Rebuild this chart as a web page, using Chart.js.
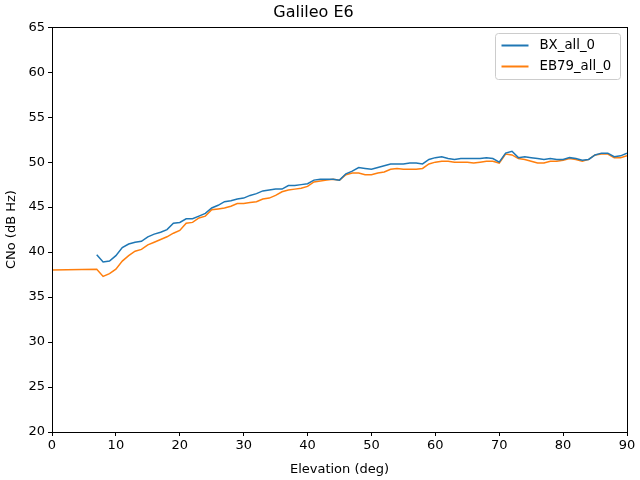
<!DOCTYPE html>
<html><head><meta charset="utf-8">
<script src="https://cdn.jsdelivr.net/npm/chart.js@4/dist/chart.umd.min.js"></script>
<style>html,body{margin:0;padding:0;background:#fff}#w{width:640px;height:480px}</style>
</head><body><div id="w"><canvas id="c"></canvas></div>
<script>
const title = "Galileo E6";
const xLabel = "Elevation (deg)";
const yLabel = "CNo (dB Hz)";
const seriesNames = ["BX_all_0", "EB79_all_0"];
const bxElev = [7,8,9,10,11,12,13,14,15,16,17,18,19,20,21,22,23,24,25,26,27,28,29,30,31,32,33,34,35,36,37,38,39,40,41,42,43,44,45,46,47,48,49,50,51,52,53,54,55,56,57,58,59,60,61,62,63,64,65,66,67,68,69,70,71,72,73,74,75,76,77,78,79,80,81,82,83,84,85,86,87,88,89,90];
const bxCno = [39.7,38.9,39.0,39.6,40.5,40.9,41.1,41.2,41.7,42.0,42.2,42.5,43.2,43.3,43.7,43.7,44.0,44.3,44.9,45.2,45.6,45.7,45.9,46.0,46.3,46.5,46.8,46.9,47.0,47.0,47.4,47.4,47.5,47.6,48.0,48.1,48.1,48.1,48.0,48.7,49.0,49.4,49.3,49.2,49.4,49.6,49.8,49.8,49.8,49.9,49.9,49.8,50.3,50.5,50.6,50.4,50.3,50.4,50.4,50.4,50.4,50.5,50.4,50.0,51.0,51.2,50.5,50.6,50.5,50.4,50.3,50.4,50.3,50.3,50.5,50.4,50.2,50.3,50.8,51.0,51.0,50.6,50.7,51.0];
const ebElev = [0,7,8,9,10,11,12,13,14,15,16,17,18,19,20,21,22,23,24,25,26,27,28,29,30,31,32,33,34,35,36,37,38,39,40,41,42,43,44,45,46,47,48,49,50,51,52,53,54,55,56,57,58,59,60,61,62,63,64,65,66,67,68,69,70,71,72,73,74,75,76,77,78,79,80,81,82,83,84,85,86,87,88,89,90];
const ebCno = [38.0,38.1,37.3,37.6,38.1,39.0,39.6,40.1,40.3,40.8,41.1,41.4,41.7,42.1,42.4,43.2,43.3,43.8,44.0,44.7,44.8,44.9,45.1,45.4,45.4,45.5,45.6,45.9,46.0,46.3,46.7,46.9,47.0,47.1,47.3,47.8,47.9,48.0,48.1,48.0,48.6,48.8,48.8,48.6,48.6,48.8,48.9,49.2,49.3,49.2,49.2,49.2,49.3,49.8,50.0,50.1,50.1,50.0,50.0,50.0,49.9,50.0,50.1,50.1,49.9,50.9,50.8,50.4,50.3,50.1,49.9,49.9,50.1,50.1,50.2,50.4,50.3,50.1,50.3,50.8,50.9,50.9,50.5,50.5,50.7];
const colors = ["#1f77b4", "#ff7f0e"];
const FONT = "DejaVu Sans";

const toPts = (xs, ys) => xs.map((x, i) => ({x: x, y: ys[i]}));

const framePlugin = {
  id: 'frame',
  afterDraw(chart) {
    const {ctx, chartArea: a} = chart;
    ctx.save();
    ctx.strokeStyle = '#000'; ctx.lineWidth = 1;
    ctx.strokeRect(Math.round(a.left) + 0.5, Math.round(a.top) + 0.5, Math.round(a.right - a.left), Math.round(a.bottom - a.top));
    // legend
    const bx = 495.5, by = 33.5, bw = 125, bh = 46;
    ctx.fillStyle = 'rgba(255,255,255,0.8)';
    ctx.strokeStyle = '#cccccc';
    ctx.beginPath();
    ctx.roundRect ? ctx.roundRect(bx, by, bw, bh, 3) : ctx.rect(bx, by, bw, bh);
    ctx.fill(); ctx.stroke();
    ctx.font = '13.3px "' + FONT + '"';
    ctx.textBaseline = 'middle';
    seriesNames.forEach((n, i) => {
      const yy = by + 12 + i * 21;
      ctx.strokeStyle = colors[i]; ctx.lineWidth = 2;
      ctx.beginPath(); ctx.moveTo(bx + 6, yy); ctx.lineTo(bx + 33, yy); ctx.stroke();
      ctx.fillStyle = '#000';
      ctx.fillText(n, bx + 44, yy);
    });
    ctx.restore();
  }
};

new Chart(document.getElementById('c'), {
  type: 'line',
  data: {
    datasets: [
      {label: seriesNames[0], data: toPts(bxElev, bxCno), borderColor: colors[0], backgroundColor: colors[0], borderWidth: 1.5, pointRadius: 0, tension: 0},
      {label: seriesNames[1], data: toPts(ebElev, ebCno), borderColor: colors[1], backgroundColor: colors[1], borderWidth: 1.5, pointRadius: 0, tension: 0}
    ]
  },
  options: {
    responsive: true, maintainAspectRatio: false, animation: false,
    layout: {padding: {left: 0, right: 13, top: 0, bottom: 0}},
    plugins: {
      legend: {display: false},
      tooltip: {enabled: false},
      title: {display: true, text: title, color: '#000', font: {family: FONT, size: 16, weight: 'normal'}, padding: {top: 3, bottom: 5}}
    },
    scales: {
      x: {
        type: 'linear', min: 0, max: 90,
        ticks: {stepSize: 10, color: '#000', font: {family: FONT, size: 13}, padding: 2, maxRotation: 0},
        grid: {display: true, drawOnChartArea: false, drawTicks: true, tickLength: 4, color: '#000'},
        border: {display: true, color: '#000'},
        title: {display: true, text: xLabel, color: '#000', font: {family: FONT, size: 13}, padding: {top: 2, bottom: 3}},
        afterFit(s) { s.height = 48; }
      },
      y: {
        min: 20, max: 65,
        ticks: {stepSize: 5, color: '#000', font: {family: FONT, size: 13}, padding: 3},
        grid: {display: true, drawOnChartArea: false, drawTicks: true, tickLength: 4, color: '#000'},
        border: {display: true, color: '#000'},
        title: {display: true, text: yLabel, color: '#000', font: {family: FONT, size: 13}, padding: {top: 4, bottom: 2}},
        afterFit(s) { s.width = 52; }
      }
    }
  },
  plugins: [framePlugin]
});
</script>
</body></html>
